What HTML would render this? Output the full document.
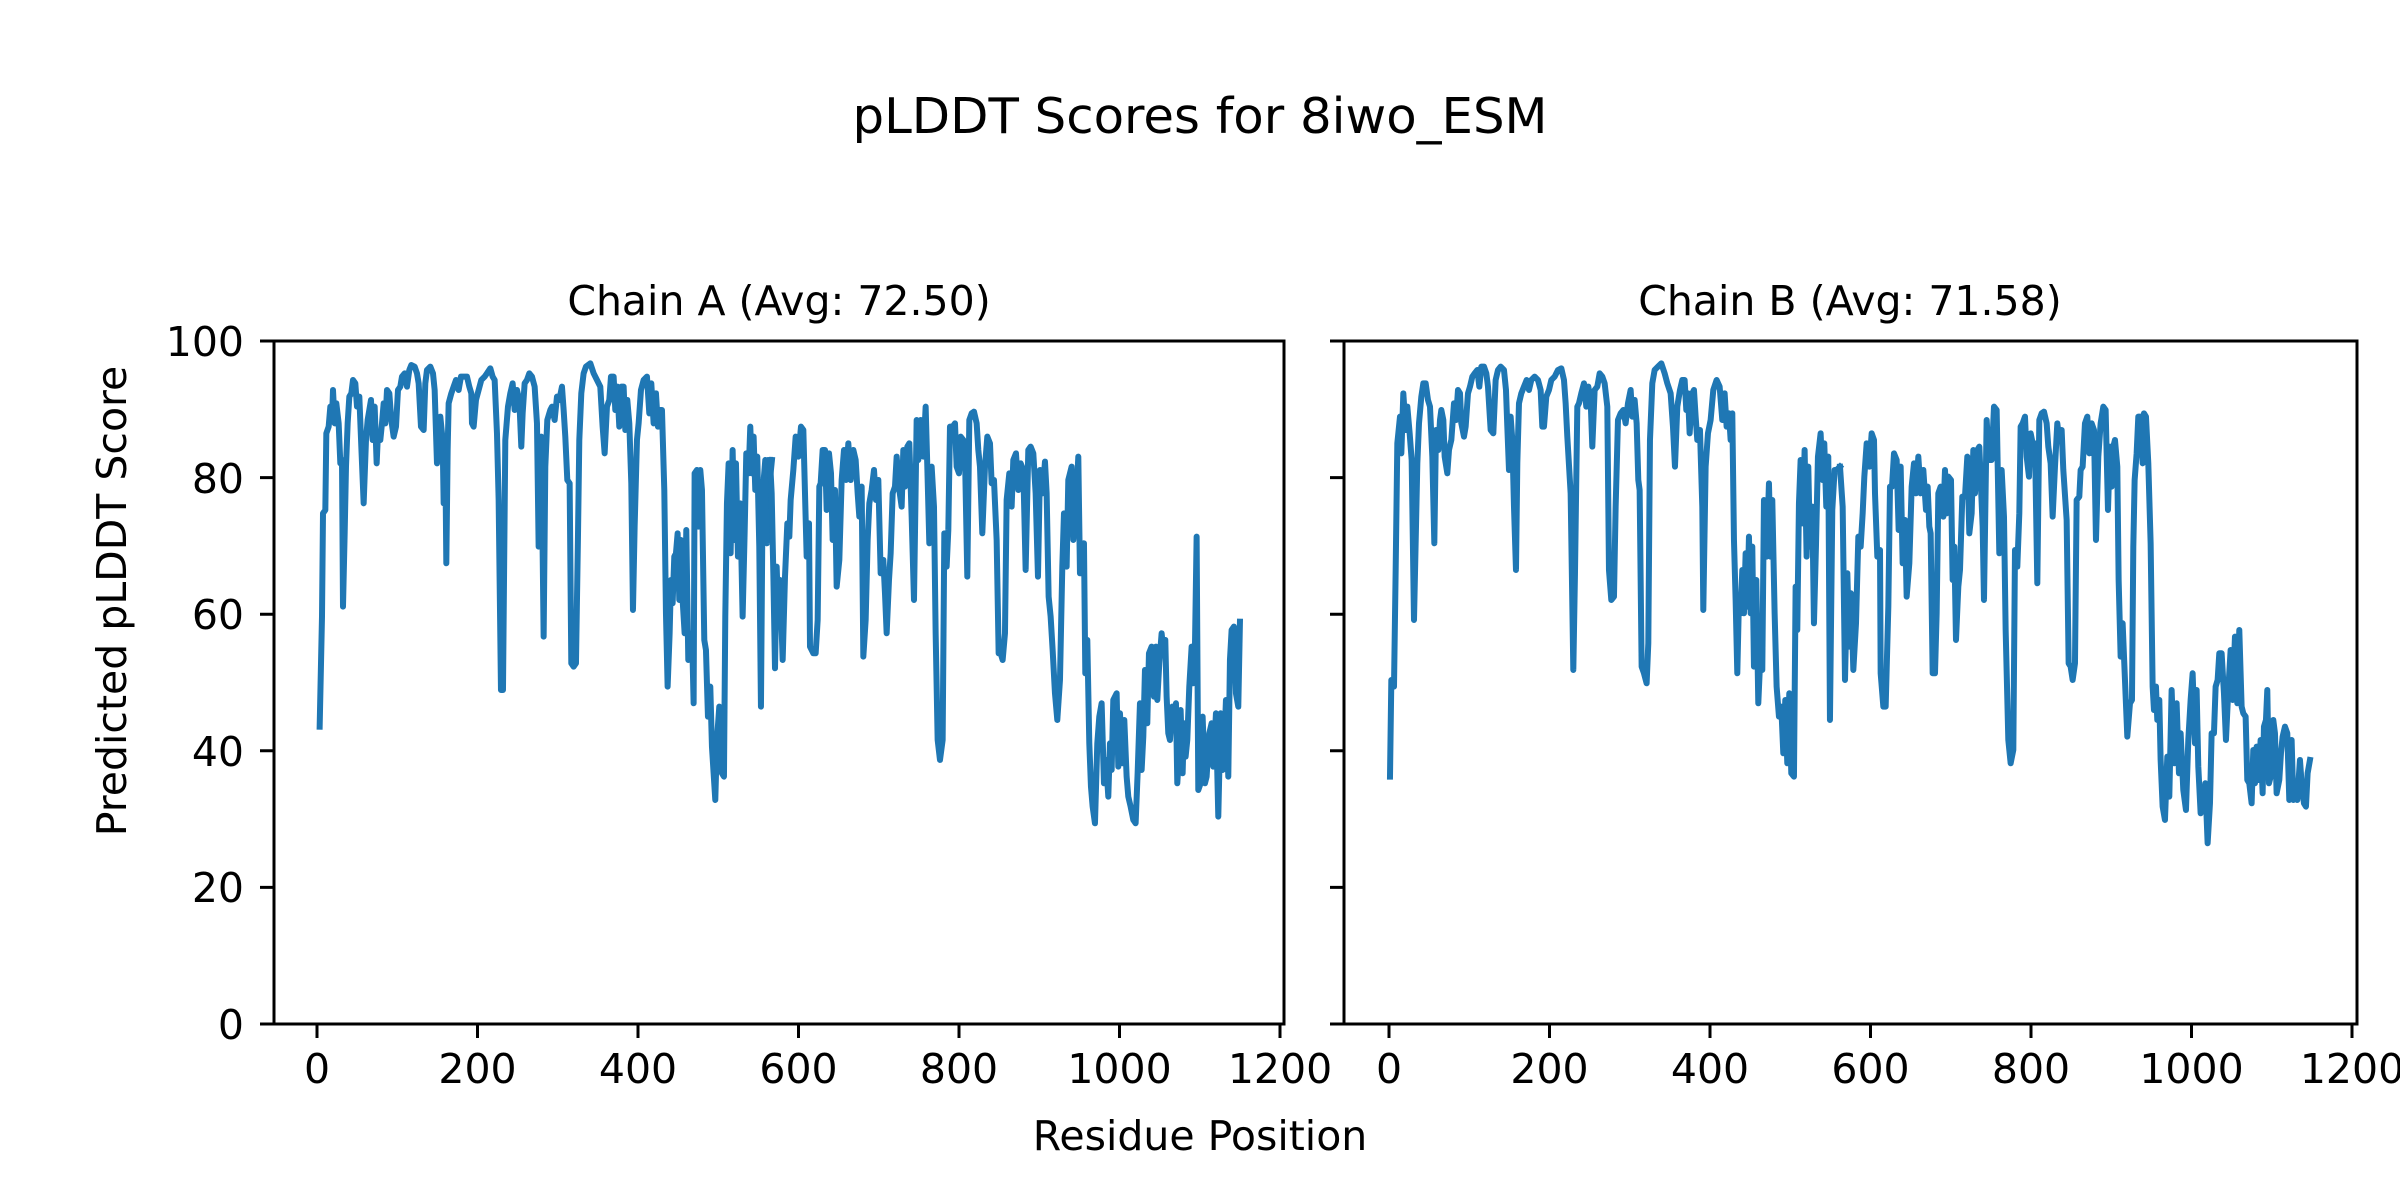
<!DOCTYPE html>
<html><head><meta charset="utf-8"><style>
html,body{margin:0;padding:0;background:#fff;}
svg{display:block;}
text{font-family:"DejaVu Sans","Liberation Sans",sans-serif;fill:#000;}
</style></head><body>
<svg width="2400" height="1200" viewBox="0 0 2400 1200" xmlns="http://www.w3.org/2000/svg">
<rect width="2400" height="1200" fill="#fff"/>
<defs>
<clipPath id="cA"><rect x="274" y="341" width="1010" height="683"/></clipPath>
<clipPath id="cB"><rect x="1344" y="341" width="1013" height="683"/></clipPath>
</defs>
<text x="1200" y="133" font-size="49" text-anchor="middle" textLength="695" lengthAdjust="spacingAndGlyphs">pLDDT Scores for 8iwo_ESM</text>
<text x="779" y="315" font-size="41" text-anchor="middle">Chain A (Avg: 72.50)</text>
<text x="1850" y="315" font-size="41" text-anchor="middle">Chain B (Avg: 71.58)</text>
<text x="1200" y="1150" font-size="41" text-anchor="middle">Residue Position</text>
<text transform="translate(126,601) rotate(-90)" font-size="41" text-anchor="middle">Predicted pLDDT Score</text>

<g clip-path="url(#cA)" fill="none" stroke="#1f77b4" stroke-width="18" stroke-linejoin="round" stroke-linecap="square">
<polyline transform="translate(272,340) scale(0.3333)" points="143,1160 150,830 153,520 160,510 163,280 170,260 175,200 180,240 183,150 188,250 193,190 200,250 205,370 210,360 213,800 218,580 222,380 227,250 232,170 238,160 243,120 250,130 255,200 262,170 268,320 275,490 282,300 287,240 292,210 297,180 302,300 308,200 314,370 318,280 325,300 330,250 335,190 340,250 345,150 352,160 358,240 365,290 372,260 378,150 385,140 390,110 398,100 405,140 412,90 418,75 428,80 435,100 440,130 447,260 455,270 460,130 465,90 475,80 483,100 488,150 495,370 500,330 505,230 512,300 515,490 520,350 523,670 527,330 530,190 538,160 545,140 552,120 560,150 567,110 575,110 585,110 592,140 598,160 600,250 605,260 612,180 620,150 628,120 638,110 645,100 655,85 662,110 668,120 675,280 680,480 687,1050 693,1050 700,300 708,200 715,160 722,130 728,210 735,150 742,180 748,320 752,220 758,130 765,120 772,100 780,110 788,140 795,250 800,620 808,290 815,890 820,380 826,240 835,210 840,200 848,240 855,170 862,180 870,140 875,210 880,290 886,420 893,430 898,970 905,980 912,970 918,590 922,300 928,160 935,100 942,80 955,70 965,100 975,120 985,140 992,260 998,340 1005,200 1012,180 1017,110 1025,110 1030,210 1036,140 1042,260 1048,140 1055,140 1060,270 1066,180 1072,250 1078,430 1083,810 1088,560 1095,300 1100,250 1107,150 1115,120 1125,110 1132,220 1138,130 1145,250 1152,160 1158,260 1163,210 1170,210 1177,450 1182,820 1187,1040 1193,880 1197,720 1202,790 1207,650 1212,640 1217,580 1222,780 1227,600 1232,780 1238,880 1243,570 1249,960 1255,880 1262,960 1265,1090 1268,400 1275,390 1280,560 1285,390 1290,450 1297,900 1302,930 1308,1130 1315,1040 1320,1220 1325,1300 1330,1380 1335,1200 1342,1100 1350,1300 1356,1310 1360,830 1365,490 1370,370 1376,640 1382,330 1388,600 1392,370 1398,650 1405,490 1412,830 1418,580 1423,340 1430,400 1435,260 1440,400 1445,290 1450,450 1456,350 1462,620 1467,1100 1472,460 1480,360 1485,610 1490,380 1494,420 1500,360"/>
<polyline transform="translate(770,340) scale(0.3333)" points="0,360 5,460 10,700 15,985 20,680 25,830 30,720 38,960 45,710 52,550 58,590 62,480 70,390 77,290 85,350 93,260 100,270 105,460 110,650 117,550 120,920 130,940 137,940 143,840 148,440 152,430 158,330 165,330 170,510 177,340 183,400 188,600 195,450 200,740 208,660 215,420 222,330 228,420 235,310 242,420 250,330 257,360 263,460 268,530 275,440 280,950 287,840 293,600 298,490 305,450 312,390 318,480 325,420 332,700 340,660 345,760 350,880 357,720 362,640 368,460 375,440 380,350 388,450 395,500 400,330 405,440 412,320 418,310 425,530 432,780 440,240 445,360 452,240 460,350 467,200 472,380 478,610 485,380 492,500 497,880 503,1200 510,1260 518,1200 523,580 530,680 535,570 540,260 548,260 555,250 560,380 567,400 572,290 580,300 586,400 592,710 598,240 605,220 612,215 620,250 625,330 630,380 637,580 645,380 652,290 660,310 665,430 672,420 680,600 686,940 692,940 698,960 705,880 710,480 718,400 725,500 730,360 738,340 745,450 752,370 760,390 767,690 775,330 782,320 790,340 797,460 804,710 810,390 818,460 825,365 830,460 836,770 842,830 848,930 855,1060 862,1140 870,1020 877,680 882,520 890,680 895,420 900,400 905,380 910,600 917,520 925,350 930,700 935,700 942,610 946,1000 952,900 958,1210 963,1340 968,1400 975,1450 982,1210 988,1130 995,1090 1002,1330 1008,1260 1015,1370 1020,1210 1025,1290 1030,1080 1040,1060 1045,1280 1050,1120 1058,1270 1063,1140 1070,1310 1075,1370 1082,1400 1090,1440 1097,1450 1103,1300 1110,1090 1115,1290 1120,1190 1125,990 1132,1150 1137,940 1145,920 1152,1070 1158,920 1162,1080 1168,970 1175,880 1180,930 1186,900 1190,1070 1195,1180 1200,1200 1207,1100 1212,1150 1218,1090 1222,1330 1228,1230 1232,1110 1238,1300 1242,1150 1247,1250 1252,1200 1258,1040 1265,920 1270,1030 1275,920 1280,590 1285,1350 1292,1330 1298,1130 1305,1330 1310,1310 1318,1180 1325,1150 1330,1280 1338,1120 1345,1430 1352,1120 1358,1290 1362,1240 1368,1080 1375,1310 1380,960 1385,870 1392,860 1398,1060 1405,1100 1410,845"/>
</g>

<g clip-path="url(#cB)" fill="none" stroke="#1f77b4" stroke-width="18" stroke-linejoin="round" stroke-linecap="square">
<polyline transform="translate(1344,340) scale(0.3333)" points="138,1310 142,1020 150,1040 155,690 160,310 168,230 172,340 178,160 185,270 190,200 197,280 203,360 210,840 216,560 220,370 225,250 232,170 238,130 245,130 252,180 258,200 265,350 271,610 276,270 283,330 288,240 292,210 298,240 302,350 310,400 315,330 322,300 330,190 336,240 342,150 348,160 352,250 360,290 365,260 372,160 378,140 385,110 392,100 400,90 406,140 412,80 420,80 427,100 432,140 440,270 448,280 455,120 462,90 470,80 480,90 486,150 490,260 495,390 500,230 505,300 510,500 516,690 520,370 525,190 532,160 540,140 548,120 555,150 562,120 572,110 582,120 590,150 595,260 600,260 607,170 615,150 622,120 632,110 642,90 652,85 660,120 665,190 670,290 680,460 688,990 693,700 700,200 705,190 712,160 720,130 727,200 733,140 740,180 745,320 752,150 760,140 767,100 775,110 782,130 790,200 795,690 802,780 810,770 815,500 822,240 830,220 838,210 845,250 852,190 860,150 865,230 872,180 878,250 883,420 887,450 893,980 900,1000 908,1030 913,910 918,300 925,130 932,90 942,80 952,70 962,100 970,130 980,160 987,260 993,380 1000,200 1008,150 1015,120 1022,120 1027,210 1032,160 1037,280 1045,160 1050,150 1055,230 1060,300 1068,270 1075,500 1078,810 1085,380 1092,280 1100,240 1108,150 1118,120 1127,140 1135,240 1142,160 1148,260 1155,220 1160,300 1165,220 1170,600 1175,780 1180,1000 1185,780 1190,820 1195,690 1200,820 1205,640 1210,800 1215,590 1220,820 1225,620 1230,980 1237,720 1243,1090 1250,930 1255,990 1260,480 1268,650 1275,430 1280,650 1285,480 1292,820 1298,1040 1305,1130 1312,1100 1318,1240 1324,1080 1330,1270 1336,1060 1342,1300 1350,1310 1355,740 1360,870 1365,490 1370,360 1376,550 1382,330 1388,650 1393,380 1398,620 1405,500 1410,850 1416,620 1422,350 1430,280 1436,420 1441,310 1447,500 1453,350 1458,1140 1465,510 1472,390 1478,390 1488,380"/>
<polyline transform="translate(1840,340) scale(0.3333)" points="0,380 8,500 15,1020 22,700 28,920 33,760 40,990 48,850 55,590 62,620 68,520 73,410 80,310 88,380 95,280 102,300 105,460 112,650 120,630 122,1000 130,1100 137,1100 145,800 150,440 156,440 162,340 170,360 176,570 182,380 188,670 195,540 200,770 208,670 215,440 222,370 228,460 235,350 242,460 250,390 258,510 263,440 268,560 272,580 278,1000 285,1000 290,820 295,460 302,440 310,530 315,390 320,520 325,410 333,420 338,720 343,620 348,900 355,740 360,690 367,470 375,470 382,350 388,580 395,520 400,330 405,460 412,330 418,320 428,560 432,780 440,240 447,360 455,360 462,200 470,210 478,640 485,390 492,530 497,870 505,1200 512,1270 520,1230 525,630 532,680 538,520 542,260 548,250 555,230 560,350 567,410 572,280 578,310 585,310 592,730 598,240 605,220 612,215 620,250 625,320 632,370 638,530 645,380 652,250 658,300 665,270 670,390 680,540 686,970 692,980 698,1020 705,970 710,480 718,470 722,390 728,380 735,250 742,230 748,340 755,250 762,270 768,600 775,350 782,250 790,200 797,210 804,510 810,320 815,440 820,320 825,300 832,380 836,720 842,950 848,850 855,1020 862,1190 870,1090 876,1080 880,620 884,420 890,340 895,230 902,230 908,370 912,220 918,230 925,370 932,610 938,1040 942,1110 948,1040 952,1140 958,1080 962,1260 968,1400 975,1440 982,1250 988,1370 995,1050 1003,1270 1010,1090 1017,1300 1022,1180 1030,1350 1038,1410 1045,1200 1052,1080 1058,1000 1065,1210 1070,1050 1075,1280 1082,1420 1090,1400 1096,1330 1103,1510 1110,1390 1115,1180 1122,1180 1127,1040 1133,1020 1138,940 1145,940 1152,1060 1158,1200 1165,1050 1172,930 1178,1080 1185,890 1192,1090 1198,870 1205,1100 1210,1120 1217,1130 1222,1320 1228,1330 1235,1390 1240,1230 1245,1330 1250,1220 1255,1320 1262,1200 1268,1360 1272,1160 1278,1140 1282,1050 1287,1330 1295,1300 1300,1140 1305,1180 1310,1360 1318,1320 1323,1240 1328,1190 1335,1160 1342,1180 1348,1380 1355,1200 1360,1380 1366,1330 1372,1380 1380,1260 1385,1330 1392,1390 1398,1400 1403,1300 1410,1260"/>
</g>

<g fill="none" stroke="#000" stroke-width="3">
<rect x="274" y="341" width="1010" height="683"/>
<rect x="1344" y="341" width="1013" height="683"/>
<path d="M274,1024h-14M274,887.4h-14M274,750.8h-14M274,614.2h-14M274,477.6h-14M274,341h-14
M1344,1024h-14M1344,887.4h-14M1344,750.8h-14M1344,614.2h-14M1344,477.6h-14M1344,341h-14
M317,1024v14M477.5,1024v14M638,1024v14M798.5,1024v14M959,1024v14M1119.5,1024v14M1280,1024v14
M1389,1024v14M1549.5,1024v14M1710,1024v14M1870.5,1024v14M2031,1024v14M2191.5,1024v14M2352,1024v14"/>
</g>
<g font-size="41" text-anchor="end">
<text x="244" y="1039">0</text>
<text x="244" y="902">20</text>
<text x="244" y="766">40</text>
<text x="244" y="629">60</text>
<text x="244" y="493">80</text>
<text x="244" y="356">100</text>
</g>
<g font-size="41" text-anchor="middle">
<text x="317" y="1083">0</text>
<text x="477.5" y="1083">200</text>
<text x="638" y="1083">400</text>
<text x="798.5" y="1083">600</text>
<text x="959" y="1083">800</text>
<text x="1119.5" y="1083">1000</text>
<text x="1280" y="1083">1200</text>
<text x="1389" y="1083">0</text>
<text x="1549.5" y="1083">200</text>
<text x="1710" y="1083">400</text>
<text x="1870.5" y="1083">600</text>
<text x="2031" y="1083">800</text>
<text x="2191.5" y="1083">1000</text>
<text x="2352" y="1083">1200</text>
</g>
</svg>
</body></html>
